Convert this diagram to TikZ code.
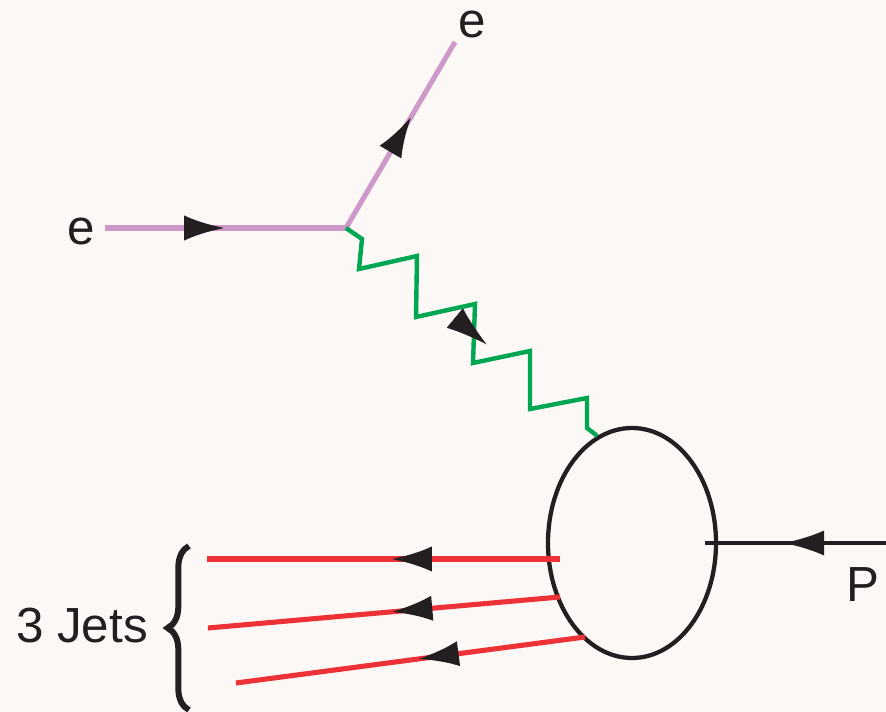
\documentclass[tikz,border=0pt]{standalone}
\usepackage{fontspec}
\setmainfont{Liberation Sans}
\usepackage{tikz}
\usetikzlibrary{positioning, arrows.meta, shapes.geometric, calc, decorations.pathreplacing, decorations.markings}
\definecolor{bgcream}{RGB}{251,248,245}
\definecolor{electronpink}{RGB}{204,153,201}
\definecolor{photongreen}{RGB}{0,166,81}
\definecolor{jetred}{RGB}{237,50,55}
\definecolor{inkblack}{RGB}{35,31,32}

\begin{document}
\begin{tikzpicture}[x=0.75pt, y=-0.75pt,
  every node/.style={font=\fontsize{37}{42}\selectfont, text=inkblack, inner sep=0pt},
  electron/.style={draw=electronpink, line width=3.8pt},
  photon/.style={draw=photongreen, line width=3.3pt, line join=miter},
  jet/.style={draw=jetred, line width=3.8pt},
  proton/.style={draw=inkblack, line width=3.2pt},
  midarrow/.style={postaction={decorate, decoration={markings, mark=at position #1 with {\arrow[inkblack]{Latex[length=31pt, width=19pt]}}}}}
]
\fill[bgcream] (0,0) rectangle (886,712);
\useasboundingbox (0,0) rectangle (886,712);

\coordinate (v) at (346,228);
\coordinate (ein) at (105,228);
\coordinate (eout) at (455,42);
\coordinate (pin) at (886,543);
\node (elabin) at (81,231) {e};
\node (elabout) at (472,24) {e};
\node (plab) at (863,585) {P};
\node (jets) at (82,626) {3 Jets};
\node[ellipse, draw=inkblack, line width=3.2pt, minimum width=126pt, minimum height=172.5pt] (blob) at (632,543) {};

\draw[electron, midarrow=0.5] (ein) -- (v);
\draw[electron, midarrow=0.6] (v) -- (eout);
\draw[photon] (v) -- ++(16,11) -- ++(-3,30) -- ++(58,-13) -- ++(-1,61) -- ++(59,-13) -- ++(-2,59) -- ++(57,-12) -- ++(0,58) -- ++(57,-11) -- ++(0,30) -- (blob.108);
\path[midarrow=0.56] (v) -- (blob.108);
\draw[proton, midarrow=0.57] (pin) -- ($(blob.center)+(73,0)$);

\draw[jet, midarrow=0.48] ($(blob.center)+(-72,16)$) -- (207,559);
\draw[jet, midarrow=0.48] ($(blob.center)+(-72,54)$) -- (208,628);
\draw[jet, midarrow=0.48] ($(blob.center)+(-47,94)$) -- (236,683);

\draw[inkblack, line width=4.5pt, decorate, decoration={brace, amplitude=16pt}] (189,710) -- (189,546);
\end{tikzpicture}
\end{document}
